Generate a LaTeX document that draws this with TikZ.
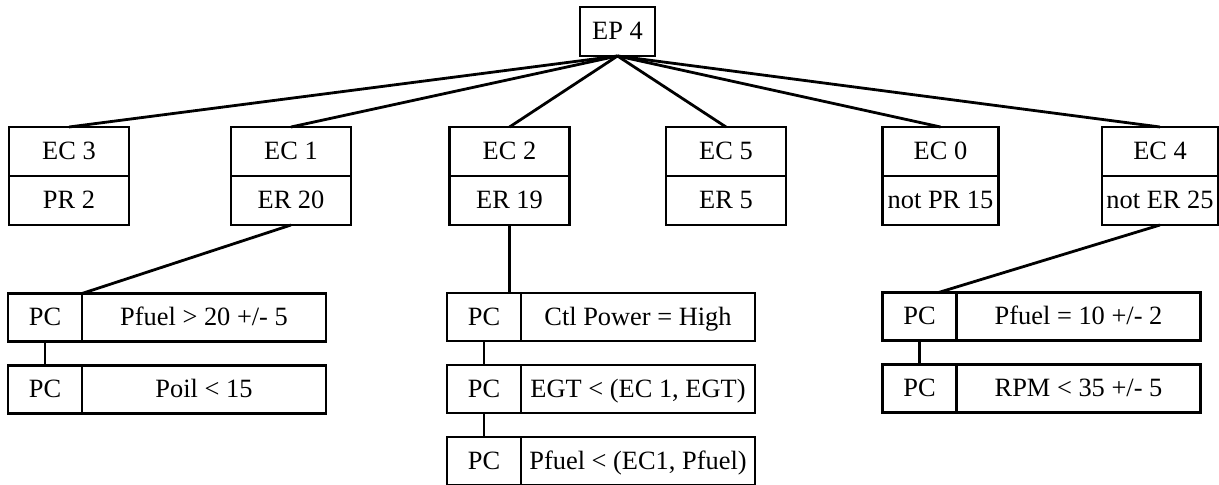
\documentclass[tikz,border=0pt]{standalone}
\usepackage{fontspec}
\setmainfont{Liberation Serif}
\usetikzlibrary{positioning}

\begin{document}
\begin{tikzpicture}[
        x=0.5pt, y=-0.5pt,
        line width=1.4pt,
        node distance=12pt,
        cell/.style={rectangle, draw, outer sep=0pt, inner xsep=1pt, text height=10pt, text depth=1.5pt, font=\fontsize{13.2}{15}\selectfont},
        ecbox/.style={cell, minimum width=60pt, minimum height=24.5pt},
        pcbox/.style={cell, minimum width=37pt, minimum height=24pt},
        condbox/.style={cell, minimum width=122pt, minimum height=24pt},
    ]
        \useasboundingbox (0,0) rectangle (1219,485);
        \node[cell, minimum width=37.5pt, minimum height=24.5pt] (ep4) at (617.5,31.5) {EP 4};

        \node[ecbox] (ec3) at (69,151.5) {EC 3};
        \node[ecbox, below=0pt of ec3] (pr2) {PR 2};
        \node[ecbox] (ec1) at (291,151.5) {EC 1};
        \node[ecbox, below=0pt of ec1] (er20) {ER 20};
        \node[ecbox] (ec2) at (509.5,151.5) {EC 2};
        \node[ecbox, below=0pt of ec2] (er19) {ER 19};
        \node[ecbox] (ec5) at (726,151.5) {EC 5};
        \node[ecbox, below=0pt of ec5] (er5) {ER 5};
        \node[ecbox, minimum width=58pt] (ec0) at (940.5,151.5) {EC 0};
        \node[ecbox, minimum width=58pt, below=0pt of ec0] (npr15) {not PR 15};
        \node[ecbox, minimum width=58pt] (ec4) at (1160,151.5) {EC 4};
        \node[ecbox, minimum width=58pt, below=0pt of ec4] (ner25) {not ER 25};

        \node[pcbox] (pca1) at (45,317.5) {PC};
        \node[condbox, right=0pt of pca1] (pfuel20) {Pfuel > 20 +/- 5};
        \node[pcbox, below=of pca1] (pca2) {PC};
        \node[condbox, right=0pt of pca2] (poil) {Poil < 15};

        \node[pcbox] (pcb1) at (484,317) {PC};
        \node[condbox, minimum width=117pt, right=0pt of pcb1] (ctlpower) {Ctl Power = High};
        \node[pcbox, below=of pcb1] (pcb2) {PC};
        \node[condbox, minimum width=117pt, right=0pt of pcb2] (egt) {EGT < (EC 1, EGT)};
        \node[pcbox, below=of pcb2] (pcb3) {PC};
        \node[condbox, minimum width=117pt, right=0pt of pcb3] (pfuelec1) {Pfuel < (EC1, Pfuel)};

        \node[pcbox] (pcc1) at (919.5,316.5) {PC};
        \node[condbox, right=0pt of pcc1] (pfuel10) {Pfuel = 10 +/- 2};
        \node[pcbox, below=of pcc1] (pcc2) {PC};
        \node[condbox, right=0pt of pcc2] (rpm) {RPM < 35 +/- 5};

        \draw (ep4.south) -- (ec3.north);
        \draw (ep4.south) -- (ec1.north);
        \draw (ep4.south) -- (ec2.north);
        \draw (ep4.south) -- (ec5.north);
        \draw (ep4.south) -- (ec0.north);
        \draw (ep4.south) -- (ec4.north);
        \draw (er20.south) -- (pca1.north east);
        \draw (er19.south) -- (er19.south |- pcb1.north);
        \draw (ner25.south) -- ([xshift=-9pt]pcc1.north east);
        \draw (pca1) -- (pca2);
        \draw (pcb1) -- (pcb2);
        \draw (pcb2) -- (pcb3);
        \draw (pcc1) -- (pcc2);
    \end{tikzpicture}
\end{document}
